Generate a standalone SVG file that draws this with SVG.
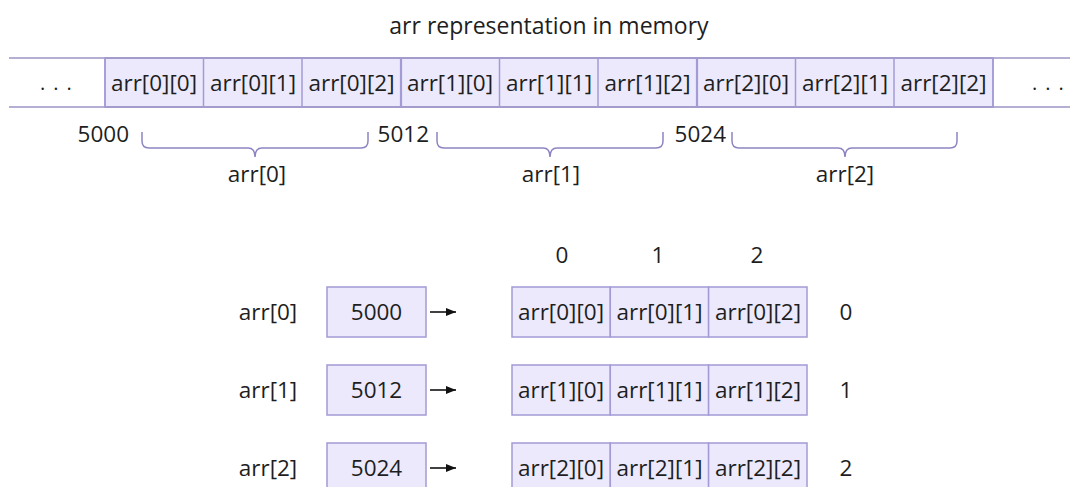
<svg xmlns="http://www.w3.org/2000/svg" width="1078" height="487" viewBox="0 0 1078 487">
<defs>
<style>
text{font-family:"Open Sans","Noto Sans",sans-serif;font-size:22.5px;fill:#1e1e1e}
.c{text-anchor:middle}
.r{text-anchor:end}
.cell{fill:#ebe9fb;stroke:#a39bd6;stroke-width:1.5}
.rail{stroke:#9c95c6;stroke-width:1.5;fill:none}
.brace{fill:none;stroke:#8d85c3;stroke-width:1.5}
.arrow{stroke:#111;stroke-width:1.6;fill:none;marker-end:url(#ah)}
.dots{font-size:20px;letter-spacing:8px}
</style>
<marker id="ah" viewBox="0 0 10 8" refX="10" refY="4" markerWidth="10" markerHeight="8" markerUnits="userSpaceOnUse" orient="auto">
<path d="M0,0 L10,4 L0,8 z" fill="#111"/>
</marker>
</defs>
<rect width="1078" height="487" fill="#ffffff"/>
<g id="title"><text class="c" x="549" y="34" style="font-size:23px">arr representation in memory</text></g>

<g id="memory-strip">
<rect class="cell" x="105" y="58" width="888" height="49"/>
<line class="rail" x1="9" y1="58" x2="1070" y2="58"/>
<line class="rail" x1="9" y1="107" x2="1070" y2="107"/>
<g stroke="#a39bd6" stroke-width="1.5">
<line x1="105" y1="58" x2="105" y2="107"/>
<line x1="203.5" y1="58" x2="203.5" y2="107"/>
<line x1="302" y1="58" x2="302" y2="107"/>
<line x1="401" y1="58" x2="401" y2="107" stroke-width="2.2"/>
<line x1="499.5" y1="58" x2="499.5" y2="107"/>
<line x1="598" y1="58" x2="598" y2="107"/>
<line x1="697" y1="58" x2="697" y2="107" stroke-width="2.2"/>
<line x1="795.5" y1="58" x2="795.5" y2="107"/>
<line x1="894" y1="58" x2="894" y2="107"/>
<line x1="993" y1="58" x2="993" y2="107"/>
</g>
<text class="c dots" x="60" y="90">...</text>
<text class="c dots" x="1052" y="90">...</text>
<text class="c" x="154" y="91">arr[0][0]</text>
<text class="c" x="253" y="91">arr[0][1]</text>
<text class="c" x="351.5" y="91">arr[0][2]</text>
<text class="c" x="450" y="91">arr[1][0]</text>
<text class="c" x="549" y="91">arr[1][1]</text>
<text class="c" x="647.5" y="91">arr[1][2]</text>
<text class="c" x="746" y="91">arr[2][0]</text>
<text class="c" x="845" y="91">arr[2][1]</text>
<text class="c" x="943.5" y="91">arr[2][2]</text>
</g>

<g id="brace-arr0">
<path class="brace" d="M142,132 V141 Q142,148 149,148 H248 Q255,148 255,157 Q255,148 262,148 H361 Q368,148 368,141 V132"/>
<text class="r" x="129" y="142">5000</text>
<text class="c" x="257" y="182">arr[0]</text>
</g>
<g id="brace-arr1">
<path class="brace" d="M437,132 V141 Q437,148 444,148 H543 Q550,148 550,157 Q550,148 557,148 H656 Q663,148 663,141 V132"/>
<text class="r" x="429" y="142">5012</text>
<text class="c" x="551" y="182">arr[1]</text>
</g>
<g id="brace-arr2">
<path class="brace" d="M732,132 V141 Q732,148 739,148 H838 Q845,148 845,157 Q845,148 852,148 H950 Q957,148 957,141 V132"/>
<text class="r" x="726" y="142">5024</text>
<text class="c" x="845" y="182">arr[2]</text>
</g>

<g id="col-headers">
<text class="c" x="562" y="263">0</text>
<text class="c" x="658" y="263">1</text>
<text class="c" x="757" y="263">2</text>
</g>

<g id="row0">
<text class="c" x="268" y="320">arr[0]</text>
<rect class="cell" x="327" y="287" width="99" height="50"/>
<text class="c" x="376.5" y="320">5000</text>
<rect class="cell" x="512" y="287" width="98.3" height="50"/>
<rect class="cell" x="610.3" y="287" width="98.3" height="50"/>
<rect class="cell" x="708.6" y="287" width="98.4" height="50"/>
<text class="c" x="561" y="320">arr[0][0]</text>
<text class="c" x="659.5" y="320">arr[0][1]</text>
<text class="c" x="758" y="320">arr[0][2]</text>
<text class="c" x="846" y="320">0</text>
</g>
<g id="row1">
<text class="c" x="268" y="398">arr[1]</text>
<rect class="cell" x="327" y="365" width="99" height="50"/>
<text class="c" x="376.5" y="398">5012</text>
<rect class="cell" x="512" y="365" width="98.3" height="50"/>
<rect class="cell" x="610.3" y="365" width="98.3" height="50"/>
<rect class="cell" x="708.6" y="365" width="98.4" height="50"/>
<text class="c" x="561" y="398">arr[1][0]</text>
<text class="c" x="659.5" y="398">arr[1][1]</text>
<text class="c" x="758" y="398">arr[1][2]</text>
<text class="c" x="846" y="398">1</text>
</g>
<g id="row2">
<text class="c" x="268" y="476">arr[2]</text>
<rect class="cell" x="327" y="443" width="99" height="50"/>
<text class="c" x="376.5" y="476">5024</text>
<rect class="cell" x="512" y="443" width="98.3" height="50"/>
<rect class="cell" x="610.3" y="443" width="98.3" height="50"/>
<rect class="cell" x="708.6" y="443" width="98.4" height="50"/>
<text class="c" x="561" y="476">arr[2][0]</text>
<text class="c" x="659.5" y="476">arr[2][1]</text>
<text class="c" x="758" y="476">arr[2][2]</text>
<text class="c" x="846" y="476">2</text>
</g>

<g id="connectors">
<line class="arrow" x1="430" y1="312" x2="456" y2="312"/>
<line class="arrow" x1="430" y1="390" x2="456" y2="390"/>
<line class="arrow" x1="430" y1="468" x2="456" y2="468"/>
</g>
</svg>
